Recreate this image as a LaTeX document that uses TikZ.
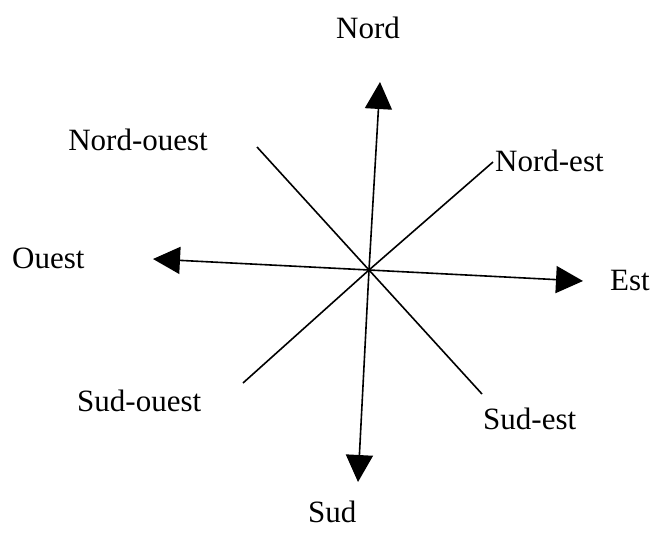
\documentclass[tikz,border=0pt]{standalone}
\usepackage{fontspec}
\setmainfont{Liberation Serif}
\usetikzlibrary{arrows.meta}
\begin{document}
\begin{tikzpicture}[x=1pt,y=-1pt,
  lbl/.style={inner sep=0pt,font=\fontsize{31}{31}\selectfont},
  ray/.style={line width=1.6pt},
  arr/.style={ray,-{Triangle[length=27pt,width=27pt]}}]
\useasboundingbox (0,0) rectangle (652,535);
\coordinate (c) at (369,270);
\coordinate (n) at (380,82);
\coordinate (s) at (358,482);
\coordinate (w) at (153,259);
\coordinate (e) at (583,281);
\coordinate (nw) at (257,147);
\coordinate (se) at (482,394);
\coordinate (ne) at (493,162);
\coordinate (sw) at (243,383);
\draw[arr] (c) -- (n);
\draw[arr] (c) -- (s);
\draw[arr] (c) -- (w);
\draw[arr] (c) -- (e);
\draw[ray] (nw) -- (c) -- (se);
\draw[ray] (ne) -- (c) -- (sw);
\fill (c) circle (2.2pt);
\node[lbl,anchor=base west] (lN) at (336,38) {Nord};
\node[lbl,anchor=base east] (lNW) at (208,150) {Nord-ouest};
\node[lbl,anchor=base west] (lNE) at (495,171) {Nord-est};
\node[lbl,anchor=base west] (lW) at (12,268) {Ouest};
\node[lbl,anchor=base west] (lE) at (610,290) {Est};
\node[lbl,anchor=base west] (lSW) at (77,411) {Sud-ouest};
\node[lbl,anchor=base west] (lSE) at (483,429) {Sud-est};
\node[lbl,anchor=base west] (lS) at (308,522) {Sud};
\end{tikzpicture}
\end{document}
